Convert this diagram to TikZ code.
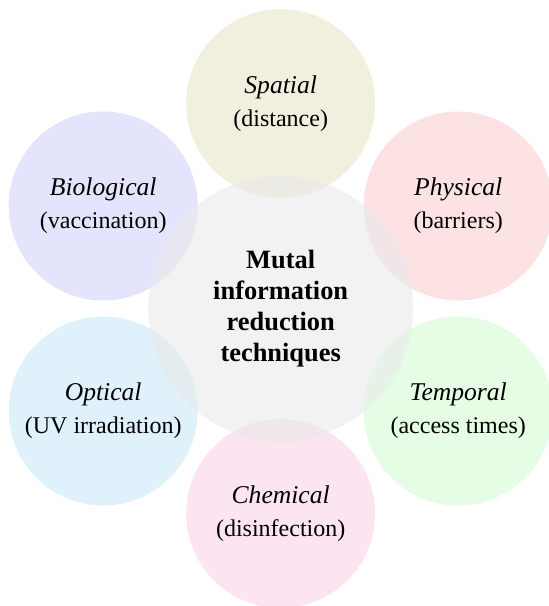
\documentclass[tikz,border=0pt]{standalone}
\usepackage{fontspec}
\setmainfont{Liberation Serif}
\definecolor{cspatial}{RGB}{241,240,223}
\definecolor{cphysical}{RGB}{253,226,228}
\definecolor{ctemporal}{RGB}{228,253,228}
\definecolor{cchemical}{RGB}{252,228,240}
\definecolor{coptical}{RGB}{223,241,250}
\definecolor{cbiological}{RGB}{228,228,253}
\definecolor{ccenter}{RGB}{233,233,233}
\newcommand{\cattitle}[1]{{\fontsize{12.8}{16.5}\selectfont\itshape #1}}
\tikzset{
  outer/.style={circle, inner sep=0pt, minimum size=94.5pt, align=center,
    font=\fontsize{12}{16.5}\selectfont},
  hub/.style={circle, inner sep=0pt, minimum size=132.5pt, align=center,
    fill=ccenter, fill opacity=0.6, text opacity=1,
    font=\fontsize{13.2}{15.6}\selectfont\bfseries}
}
\begin{document}
\begin{tikzpicture}[x=0.5pt,y=-0.5pt]
\useasboundingbox (0,0) rectangle (548,606);
\node[outer, fill=cspatial]    (spatial)    at (280.7,103.5) {\cattitle{Spatial}\\(distance)};
\node[outer, fill=cphysical]   (physical)   at (458.2,206)   {\cattitle{Physical}\\(barriers)};
\node[outer, fill=ctemporal]   (temporal)   at (458.2,411)   {\cattitle{Temporal}\\(access times)};
\node[outer, fill=cchemical]   (chemical)   at (280.7,513.5) {\cattitle{Chemical}\\(disinfection)};
\node[outer, fill=coptical]    (optical)    at (103.2,411)   {\cattitle{Optical}\\(UV irradiation)};
\node[outer, fill=cbiological] (biological) at (103.2,206)   {\cattitle{Biological}\\(vaccination)};
\node[hub] (center) at (280.7,308.5) {Mutal\\information\\reduction\\techniques};
\end{tikzpicture}
\end{document}
